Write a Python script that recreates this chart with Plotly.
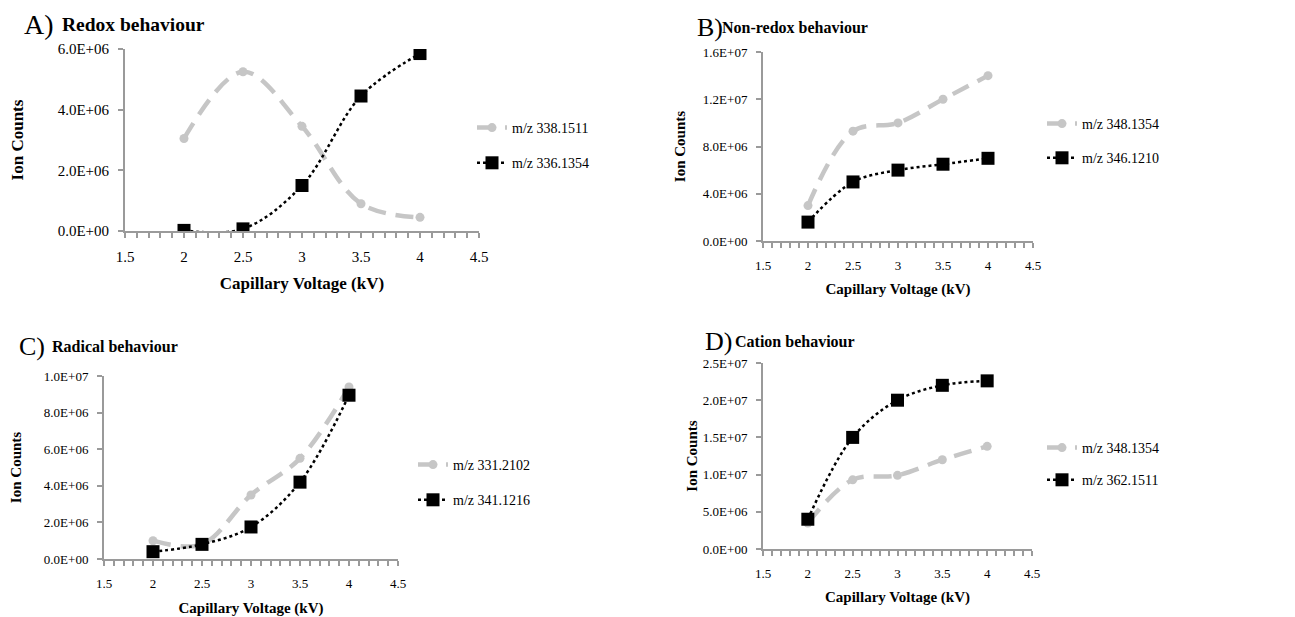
import plotly.graph_objects as go

voltage = [2, 2.5, 3, 3.5, 4]

# Panel A - Redox behaviour
a_name_gray = "m/z 338.1511"
a_gray = [3.05e6, 5.25e6, 3.45e6, 0.9e6, 0.45e6]
a_name_black = "m/z 336.1354"
a_black = [0.02e6, 0.07e6, 1.5e6, 4.45e6, 5.85e6]

# Panel B - Non-redox behaviour
b_name_gray = "m/z 348.1354"
b_gray = [3.0e6, 9.3e6, 10.0e6, 12.0e6, 14.0e6]
b_name_black = "m/z 346.1210"
b_black = [1.6e6, 5.0e6, 6.0e6, 6.5e6, 7.0e6]

# Panel C - Radical behaviour
c_name_gray = "m/z 331.2102"
c_gray = [1.0e6, 0.8e6, 3.5e6, 5.5e6, 9.4e6]
c_name_black = "m/z 341.1216"
c_black = [0.4e6, 0.8e6, 1.75e6, 4.2e6, 8.95e6]

# Panel D - Cation behaviour
d_name_gray = "m/z 348.1354"
d_gray = [3.5e6, 9.3e6, 9.9e6, 12.0e6, 13.8e6]
d_name_black = "m/z 362.1511"
d_black = [4.0e6, 15.0e6, 20.0e6, 22.0e6, 22.6e6]

x_ticks = [1.5, 2, 2.5, 3, 3.5, 4, 4.5]
a_yticks = [0, 2e6, 4e6, 6e6]
b_yticks = [0, 4e6, 8e6, 12e6, 16e6]
c_yticks = [0, 2e6, 4e6, 6e6, 8e6, 10e6]
d_yticks = [0, 5e6, 10e6, 15e6, 20e6, 25e6]

panel_letters = ["A)", "B)", "C)", "D)"]
panel_titles = ["Redox behaviour", "Non-redox behaviour", "Radical behaviour", "Cation behaviour"]
x_title = "Capillary Voltage (kV)"
y_title = "Ion Counts"

# page body has an 8px margin: figure is sized to fit the 1295x617 window
OFF = 8
W, H = 1295 - OFF, 617 - OFF
FONT = "Liberation Serif"
GRAY = "#c6c6c6"
AXIS = "#9a9a9a"


def px(x):
    return (x - OFF) / W


def py(y):
    return 1 - (y - OFF) / H


# plot boxes in window pixels: (left, right, top, bottom)
boxes = [
    (125, 479, 49, 231),
    (763, 1033, 52, 241),
    (104, 398, 376, 559),
    (763, 1032, 363, 549),
]
tick_fs = [15, 13, 13, 13]
title_fs = [17, 15, 15, 15]
x_standoff = [13, 12, 16, 12]
y_standoff = [30, 14, 22, 2]

panels = [
    (a_name_gray, a_gray, a_name_black, a_black, a_yticks),
    (b_name_gray, b_gray, b_name_black, b_black, b_yticks),
    (c_name_gray, c_gray, c_name_black, c_black, c_yticks),
    (d_name_gray, d_gray, d_name_black, d_black, d_yticks),
]

# legend positions (window pixels: left, top) and row gaps
legend_pos = [(472, 112), (1042, 108), (413, 449), (1042, 432)]
legend_gap = [14, 13, 14, 11]

fig = go.Figure()
layout = dict(
    width=W, height=H, margin=dict(l=0, r=0, t=0, b=0, autoexpand=False),
    paper_bgcolor="white", plot_bgcolor="white",
    font=dict(family=FONT, color="black"),
    showlegend=True,
)

annotations = []
for i, (ng, vg, nb, vb, yt) in enumerate(panels):
    k = "" if i == 0 else str(i + 1)
    xa, ya = "x" + k, "y" + k
    leg = "legend" + k
    fig.add_trace(go.Scatter(
        x=voltage, y=vg, name=ng, mode="lines+markers", xaxis=xa, yaxis=ya,
        line=dict(color=GRAY, width=4.5, dash="18px,10px", shape="spline", smoothing=1),
        marker=dict(symbol="circle", size=9, color=GRAY),
        legend=leg, legendgroup=f"g{i}a",
    ))
    fig.add_trace(go.Scatter(
        x=voltage, y=vb, name=nb, mode="lines+markers", xaxis=xa, yaxis=ya,
        line=dict(color="black", width=2.5, dash="dot", shape="spline", smoothing=1),
        marker=dict(symbol="square", size=13, color="black"),
        legend=leg, legendgroup=f"g{i}b",
    ))
    l, r, t, b = boxes[i]
    layout["xaxis" + k] = dict(
        domain=[px(l), px(r)], anchor=ya, range=[1.5, 4.5], automargin=False,
        tickvals=x_ticks, ticktext=[f"{v:g}" for v in x_ticks],
        showline=True, linecolor=AXIS, linewidth=2, showgrid=False, zeroline=False,
        ticks="outside", ticklen=5, tickcolor=AXIS, tickwidth=1.5,
        minor=dict(dtick=0.1, tick0=1.5, ticks="outside", ticklen=5, tickcolor=AXIS, tickwidth=1.5, showgrid=False),
        tickfont=dict(size=tick_fs[i], family=FONT), ticklabelstandoff=6,
        title=dict(text=f"<b>{x_title}</b>", font=dict(size=title_fs[i], family=FONT), standoff=x_standoff[i]),
    )
    layout["yaxis" + k] = dict(
        domain=[py(b), py(t)], anchor=xa, range=[0, yt[-1]], automargin=False,
        tickvals=yt, ticktext=[f"{v:.1E}" for v in yt],
        showline=True, linecolor=AXIS, linewidth=2, showgrid=False, zeroline=False,
        ticks="outside", ticklen=5, tickcolor=AXIS, tickwidth=1.5,
        tickfont=dict(size=tick_fs[i], family=FONT), ticklabelstandoff=6,
        title=dict(text=f"<b>{y_title}</b>", font=dict(size=title_fs[i], family=FONT), standoff=y_standoff[i]),
    )
    lx, ly = legend_pos[i]
    layout[leg] = dict(
        x=px(lx), y=py(ly), xanchor="left", yanchor="top", xref="paper", yref="paper",
        bgcolor="rgba(0,0,0,0)", font=dict(size=14, family=FONT), tracegroupgap=legend_gap[i],
        itemsizing="trace",
    )

title_pos = [(22, 25, 60), (695, 28, 720), (17, 346, 50), (703, 341, 733)]
title_sz = [19.5, 16, 16, 16]
for i in range(4):
    lx, ty, tx = title_pos[i]
    annotations.append(dict(
        text=panel_letters[i], x=px(lx), y=py(ty), xref="paper", yref="paper",
        xanchor="left", yanchor="middle", showarrow=False,
        font=dict(size=28 if i == 0 else 26, family=FONT),
    ))
    annotations.append(dict(
        text=f"<b>{panel_titles[i]}</b>", x=px(tx), y=py(ty), xref="paper", yref="paper",
        xanchor="left", yanchor="middle", showarrow=False,
        font=dict(size=title_sz[i], family=FONT),
    ))

layout["annotations"] = annotations
fig.update_layout(**layout)
fig.write_html("out.html")
